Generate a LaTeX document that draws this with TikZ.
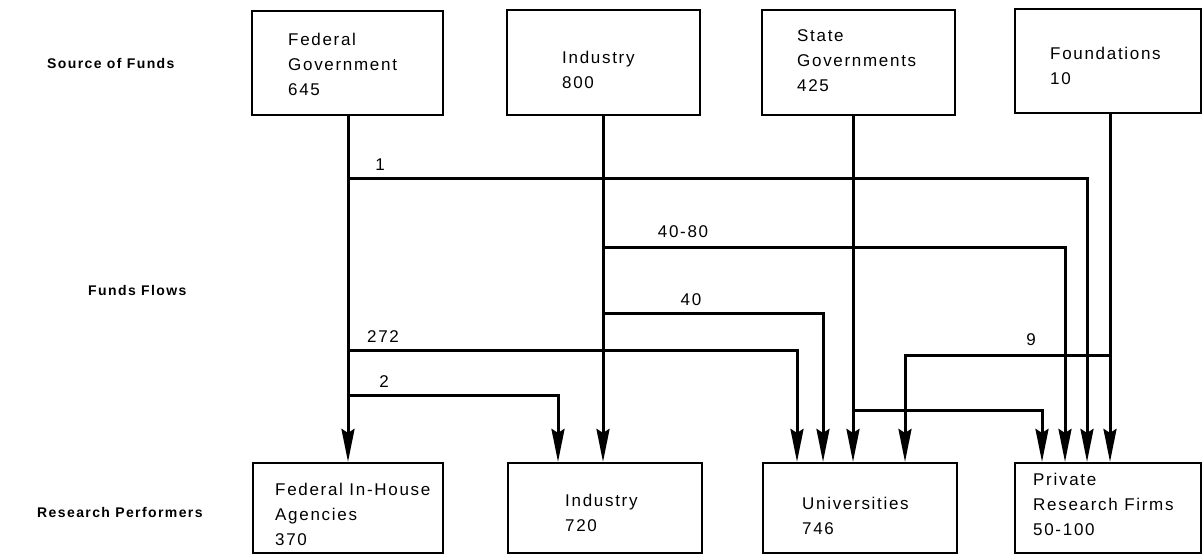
\documentclass[tikz,border=0pt]{standalone}
\usepackage{fontspec}
\setmainfont{Liberation Sans}
\newfontfamily\boxfnt[LetterSpace=10]{Liberation Sans}
\usetikzlibrary{arrows.meta}
\begin{document}
\begin{tikzpicture}[x=1pt,y=-1pt,
  box/.style={draw, line width=2.2pt, inner sep=0pt},
  flow/.style={line width=3pt, -{Stealth[length=33pt,width=13pt,inset=4pt]}},
  txt/.style={font=\boxfnt\fontsize{17}{25}\selectfont, align=left, inner sep=0pt, anchor=west},
  num/.style={font=\boxfnt\fontsize{17}{20}\selectfont, inner sep=0pt},
  side/.style={font=\boxfnt\bfseries\fontsize{14}{16}\selectfont, inner sep=0pt, anchor=west}]
\useasboundingbox (0,0) rectangle (1203,555);

% side labels
\node[side] (l1) at (47,63) {Source of Funds};
\node[side] (l2) at (88,290) {Funds Flows};
\node[side] (l3) at (37,512) {Research Performers};

% source boxes
\node[box, minimum width=191pt, minimum height=104pt] (fg) at (347.5,63) {};
\node[box, minimum width=193pt, minimum height=105pt] (fi) at (603.5,62.5) {};
\node[box, minimum width=193pt, minimum height=105pt] (sg) at (858.5,62.5) {};
\node[box, minimum width=186pt, minimum height=104pt] (fo) at (1108,61) {};

\node[txt] (tfg) at (288,64) {Federal\\Government\\645};
\node[txt] (tfi) at (562,70) {Industry\\800};
\node[txt] (tsg) at (797,61) {State\\Governments\\425};
\node[txt] (tfo) at (1050,66) {Foundations\\10};

% performer boxes
\node[box, minimum width=190pt, minimum height=90pt] (pa) at (348,508) {};
\node[box, minimum width=194pt, minimum height=90pt] (pi) at (605,508) {};
\node[box, minimum width=194pt, minimum height=90pt] (pu) at (860,508) {};
\node[box, minimum width=186pt, minimum height=90pt] (pp) at (1108,508) {};

\node[txt] (tpa) at (275,514) {Federal In-House\\Agencies\\370};
\node[txt] (tpi) at (565,513) {Industry\\720};
\node[txt] (tpu) at (802,516) {Universities\\746};
\node[txt] (tpp) at (1033,504) {Private\\Research Firms\\50-100};

% helper coordinates
\coordinate (cf) at (348,0);
\coordinate (ci) at (603,0);
\coordinate (cs) at (853,0);
\coordinate (co) at (1110,0);
\coordinate (e2) at (558,0);
\coordinate (e272) at (797,0);
\coordinate (e40) at (823,0);
\coordinate (e9) at (905,0);
\coordinate (esb) at (1042,0);
\coordinate (e4080) at (1065,0);
\coordinate (e1) at (1087,0);
\coordinate (h1) at (0,178);
\coordinate (h2) at (0,247);
\coordinate (h3) at (0,313);
\coordinate (h4) at (0,350);
\coordinate (h5) at (0,355);
\coordinate (h6) at (0,395);
\coordinate (h7) at (0,410);

% trunks
\draw[flow] (cf |- fg.south) -- (cf |- pa.north);
\draw[flow] (ci |- fi.south) -- (ci |- pi.north);
\draw[flow] (cs |- sg.south) -- (cs |- pu.north);
\draw[flow] (co |- fo.south) -- (co |- pp.north);

% branches
\draw[flow] (cf |- h1) -| (e1 |- pp.north);
\draw[flow] (ci |- h2) -| (e4080 |- pp.north);
\draw[flow] (ci |- h3) -| (e40 |- pu.north);
\draw[flow] (cf |- h4) -| (e272 |- pu.north);
\draw[flow] (co |- h5) -| (e9 |- pu.north);
\draw[flow] (cf |- h6) -| (e2 |- pi.north);
\draw[flow] (cs |- h7) -| (esb |- pp.north);

% flow labels
\node[num] (n1) at (380,165) {1};
\node[num] (n4080) at (683,232) {40-80};
\node[num] (n40) at (691,300) {40};
\node[num] (n272) at (383,337) {272};
\node[num] (n9) at (1031,340) {9};
\node[num] (n2) at (384,382) {2};
\end{tikzpicture}
\end{document}
